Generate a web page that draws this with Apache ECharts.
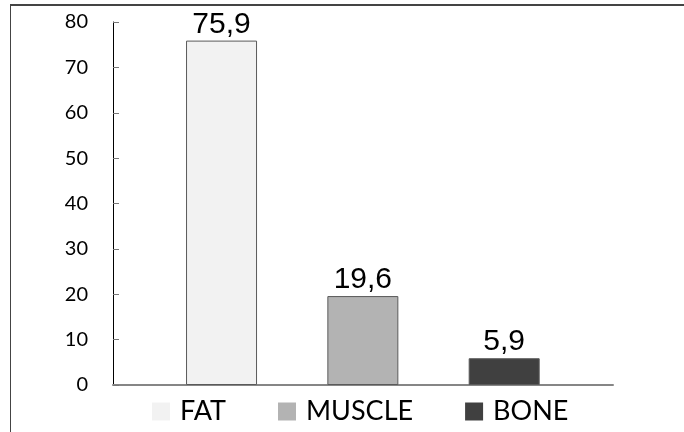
<!DOCTYPE html>
<html>
<head>
<meta charset="utf-8">
<script src="https://cdn.jsdelivr.net/npm/echarts@6/dist/echarts.min.js"></script>
<style>
  html, body { margin: 0; padding: 0; background: #fff; }
  #wrap { position: relative; width: 684px; height: 432px; overflow: hidden; }
  #frame { position: absolute; left: 10px; top: 4px; width: 800px; height: 600px; border-left: 1.5px solid #444; border-top: 2px solid #444; box-sizing: border-box; }
  #chart { position: absolute; left: 0; top: 0; width: 684px; height: 432px; }
</style>
</head>
<body>
<div id="wrap">
  <div id="frame"></div>
  <div id="chart"></div>
</div>
<script>
const categories = ['FAT', 'MUSCLE', 'BONE'];
const values = [75.9, 19.6, 5.9];
const labels = ['75,9', '19,6', '5,9'];
const colors = ['#f2f2f2', '#b3b3b3', '#404040'];
const yTicks = [0, 10, 20, 30, 40, 50, 60, 70, 80];

const chart = echarts.init(document.getElementById('chart'), null, { renderer: 'canvas' });

const series = categories.map((name, i) => ({
  name: name,
  type: 'bar',
  barWidth: 71,
  barGap: '-100%',
  data: [[i, values[i]]],
  itemStyle: { color: colors[i], borderColor: '#5a5a5a', borderWidth: 1 },
  label: {
    show: true,
    position: 'top',
    distance: 1,
    formatter: () => labels[i],
    color: '#000',
    fontFamily: 'Liberation Sans, Arial, sans-serif',
    fontSize: 30
  },
  emphasis: { disabled: true }
}));

chart.setOption({
  animation: false,
  backgroundColor: 'transparent',
  grid: { left: 113, right: 684 - 613, top: 22, bottom: 432 - 385 },
  legend: {
    left: 152,
    top: 398,
    padding: 0,
    itemWidth: 18,
    itemHeight: 18,
    itemGap: 52,
    icon: 'rect',
    data: categories.map((c, i) => ({ name: c, itemStyle: { color: colors[i], borderWidth: 0 } })),
    textStyle: { fontFamily: 'Lato, sans-serif', fontSize: 27, color: '#000', padding: [0, 0, 0, 5] },
    selectedMode: false
  },
  xAxis: {
    type: 'value',
    min: -0.768,
    max: 2.77,
    axisLine: { show: true, lineStyle: { color: '#868686', width: 2 }, onZero: true },
    axisTick: { show: false },
    axisLabel: { show: false },
    splitLine: { show: false }
  },
  yAxis: {
    type: 'value',
    min: yTicks[0],
    max: yTicks[yTicks.length - 1],
    interval: 10,
    axisLine: { show: true, onZero: false, lineStyle: { color: '#000', width: 1 } },
    axisTick: { show: true, inside: true, length: 6, lineStyle: { color: '#777' } },
    axisLabel: { color: '#000', fontFamily: 'Lato, sans-serif', fontSize: 20, margin: 25 },
    splitLine: { show: false }
  },
  series: series
});
</script>
</body>
</html>
